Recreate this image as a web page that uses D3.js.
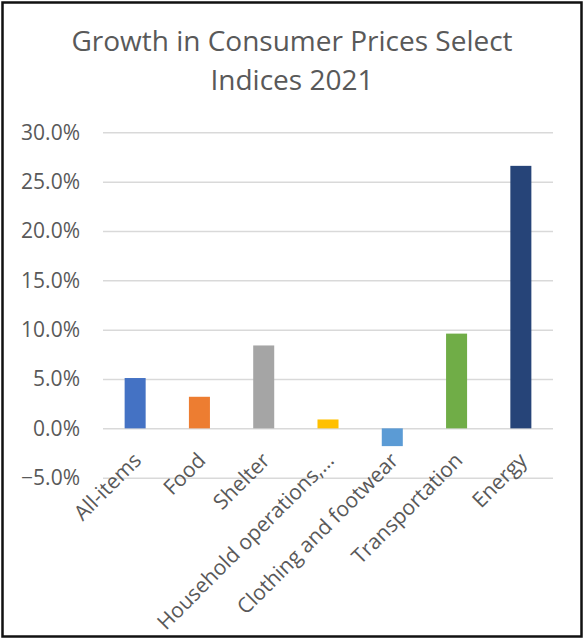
<!DOCTYPE html>
<html>
<head>
<meta charset="utf-8">
<script src="https://cdn.jsdelivr.net/npm/d3@7"></script>
<style>
  html, body { margin: 0; padding: 0; background: #fff; }
  svg { display: block; }
  text { font-family: "Open Sans", sans-serif; fill: #595959; }
</style>
</head>
<body>
<svg id="chart" width="584" height="639"></svg>
<script>
// Year-over-year change, selected consumer price indices, 2021
const categories = [
  "All-items", "Food", "Shelter", "Household operations,\u2026",
  "Clothing and footwear", "Transportation", "Energy"
];
const growth = [0.051, 0.032, 0.084, 0.009, -0.018, 0.096, 0.266];
const barColors = ["#4472C4", "#ED7D31", "#A5A5A5", "#FFC000", "#5B9BD5", "#70AD47", "#264478"];
const yTicks = [-0.05, 0, 0.05, 0.10, 0.15, 0.20, 0.25, 0.30];
const titleLines = ["Growth in Consumer Prices Select", "Indices 2021"];

const W = 584, H = 639;
const plot = { left: 103, right: 553, top: 132.3, bottom: 477.7 };

const svg = d3.select("#chart");

// outer frame
svg.append("rect")
  .attr("x", 2.5).attr("y", 2.5)
  .attr("width", 579).attr("height", 634)
  .attr("fill", "#fff")
  .attr("stroke", "#111").attr("stroke-width", 2.5);

// title
svg.append("g").selectAll("text")
  .data(titleLines)
  .join("text")
  .attr("x", W / 2)
  .attr("y", (d, i) => 51 + i * 39)
  .attr("text-anchor", "middle")
  .attr("font-size", 28)
  .text(d => d);

const x = d3.scaleBand()
  .domain(categories)
  .range([plot.left, plot.right])
  .paddingInner(0.673)
  .paddingOuter(0.673 / 2);

const y = d3.scaleLinear()
  .domain([-0.05, 0.30])
  .range([plot.bottom, plot.top]);

// gridlines + value axis labels
const yAxis = d3.axisLeft(y)
  .tickValues(yTicks)
  .tickFormat(d3.format(".1%"))
  .tickSize(-(plot.right - plot.left))
  .tickPadding(23);

const gy = svg.append("g")
  .attr("transform", `translate(${plot.left},0)`)
  .call(yAxis);
gy.select(".domain").remove();
gy.selectAll(".tick line").attr("stroke", "#d9d9d9").attr("stroke-width", 1.5);
gy.selectAll(".tick text")
  .attr("font-family", "Open Sans, sans-serif")
  .attr("font-size", 21)
  .attr("fill", "#595959");

// bars
svg.append("g").selectAll("rect")
  .data(categories.map((c, i) => ({ c, v: growth[i], col: barColors[i] })))
  .join("rect")
  .attr("x", d => x(d.c))
  .attr("width", x.bandwidth())
  .attr("y", d => y(Math.max(0, d.v)))
  .attr("height", d => Math.abs(y(d.v) - y(0)))
  .attr("fill", d => d.col);

// category labels hang from the zero line, rotated 45 degrees
const y0 = y(0);
svg.append("g").selectAll("text")
  .data(categories)
  .join("text")
  .attr("text-anchor", "end")
  .attr("font-size", 21)
  .attr("transform", d => `translate(${x(d) + x.bandwidth() / 2 - 3},${y0 + 23}) rotate(-45)`)
  .attr("dy", "0.7em")
  .text(d => d);
</script>
</body>
</html>
